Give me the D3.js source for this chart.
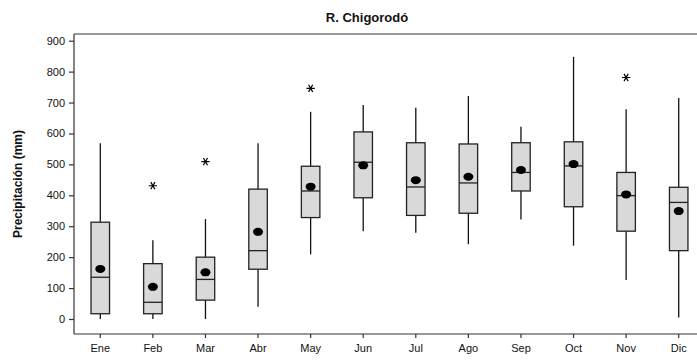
<!DOCTYPE html>
<html>
<head>
<meta charset="utf-8">
<script src="https://cdn.jsdelivr.net/npm/d3@7"></script>
<style>
  html, body { margin: 0; padding: 0; background: #fff; }
  svg { display: block; font-family: Arial, "Liberation Sans", sans-serif; }
</style>
</head>
<body>
<svg id="chart" width="697" height="360"></svg>
<script>
// Monthly precipitation summary, R. Chigorodó (mm)
const months   = ["Ene","Feb","Mar","Abr","May","Jun","Jul","Ago","Sep","Oct","Nov","Dic"];
const whiskLo  = [0, 0, 0, 40, 209, 284, 279, 242, 322, 237, 126, 5];
const q1       = [17, 17, 61, 161, 328, 392, 335, 342, 414, 363, 284, 221];
const medians  = [135, 54, 128, 221, 414, 507, 427, 440, 474, 495, 399, 377];
const q3       = [313, 179, 200, 420, 494, 605, 570, 566, 570, 573, 474, 426];
const whiskHi  = [568, 255, 323, 568, 670, 692, 683, 721, 622, 848, 678, 715];
const means    = [162, 104, 151, 282, 428, 497, 449, 460, 482, 501, 403, 349];
const outliers = [[], [431], [509], [], [746], [], [], [], [], [], [781], []];
const yTicks   = [0, 100, 200, 300, 400, 500, 600, 700, 800, 900];

const svg = d3.select("#chart");
const plotLeft = 74, plotTop = 34, plotBottom = 334, plotRight = 705;

const x = d3.scaleBand().domain(months).range([plotLeft, plotRight]).paddingInner(0).paddingOuter(0);
const y = d3.scaleLinear().domain([0, 900]).range([319, 40.7]);
const boxW = 18.5;
const cx = m => x(m) + x.bandwidth() / 2;

// frame: top line, left and bottom axis lines
svg.append("line").attr("x1", plotLeft).attr("x2", 697).attr("y1", plotTop).attr("y2", plotTop)
  .attr("stroke", "#333").attr("stroke-width", 1.2);

const yAxis = svg.append("g").attr("transform", `translate(${plotLeft},0)`)
  .call(d3.axisLeft(y).tickValues(yTicks).tickSize(5).tickPadding(4));
yAxis.select(".domain").attr("d", `M0,${plotTop}V${plotBottom}`).attr("stroke", "#333").attr("stroke-width", 1.2);
yAxis.selectAll(".tick line").attr("stroke", "#333").attr("stroke-width", 1.2);
yAxis.selectAll(".tick text").attr("font-size", 11).attr("fill", "#111")
  .attr("font-family", "Arial, 'Liberation Sans', sans-serif");

const xAxis = svg.append("g").attr("transform", `translate(0,${plotBottom})`)
  .call(d3.axisBottom(x).tickSize(4).tickPadding(6));
xAxis.select(".domain").attr("d", `M${plotLeft},0H697`).attr("stroke", "#333").attr("stroke-width", 1.2);
xAxis.selectAll(".tick line").attr("stroke", "#333").attr("stroke-width", 1.2);
xAxis.selectAll(".tick text").attr("font-size", 11).attr("fill", "#111")
  .attr("font-family", "Arial, 'Liberation Sans', sans-serif");

// boxes
const data = months.map((m, i) => ({
  m, lo: whiskLo[i], q1: q1[i], med: medians[i], q3: q3[i], hi: whiskHi[i], mean: means[i], out: outliers[i]
}));

const g = svg.append("g");
const box = g.selectAll("g.box").data(data).join("g").attr("class", "box");

box.append("line").attr("x1", d => cx(d.m)).attr("x2", d => cx(d.m))
  .attr("y1", d => y(d.q3)).attr("y2", d => y(d.hi)).attr("stroke", "#111").attr("stroke-width", 1.3);
box.append("line").attr("x1", d => cx(d.m)).attr("x2", d => cx(d.m))
  .attr("y1", d => y(d.q1)).attr("y2", d => y(d.lo)).attr("stroke", "#111").attr("stroke-width", 1.3);
box.append("rect")
  .attr("x", d => cx(d.m) - boxW / 2).attr("width", boxW)
  .attr("y", d => y(d.q3)).attr("height", d => y(d.q1) - y(d.q3))
  .attr("fill", "#d9d9d9").attr("stroke", "#222").attr("stroke-width", 1.3);
box.append("line").attr("x1", d => cx(d.m) - boxW / 2).attr("x2", d => cx(d.m) + boxW / 2)
  .attr("y1", d => y(d.med)).attr("y2", d => y(d.med)).attr("stroke", "#222").attr("stroke-width", 1.3);
box.append("ellipse").attr("cx", d => cx(d.m)).attr("cy", d => y(d.mean))
  .attr("rx", 5).attr("ry", 4).attr("fill", "#000");

// outliers drawn as asterisks (horizontal bar plus two diagonals)
const star = d3.symbol().type(d3.symbolAsterisk).size(48);
box.selectAll("path.out").data(d => d.out.map(v => ({ m: d.m, v }))).join("path")
  .attr("class", "out")
  .attr("transform", d => `translate(${cx(d.m)},${y(d.v)}) rotate(90)`)
  .attr("d", star).attr("stroke", "#000").attr("stroke-width", 1.2).attr("fill", "none");

// title and y label
svg.append("text").attr("x", 367).attr("y", 22).attr("text-anchor", "middle")
  .attr("font-size", 13).attr("font-weight", "bold").attr("fill", "#111").text("R. Chigorodó");
svg.append("text").attr("transform", "translate(22,184) rotate(-90)").attr("text-anchor", "middle")
  .attr("font-size", 12).attr("font-weight", "bold").attr("fill", "#111").text("Precipitación (mm)");
</script>
</body>
</html>
